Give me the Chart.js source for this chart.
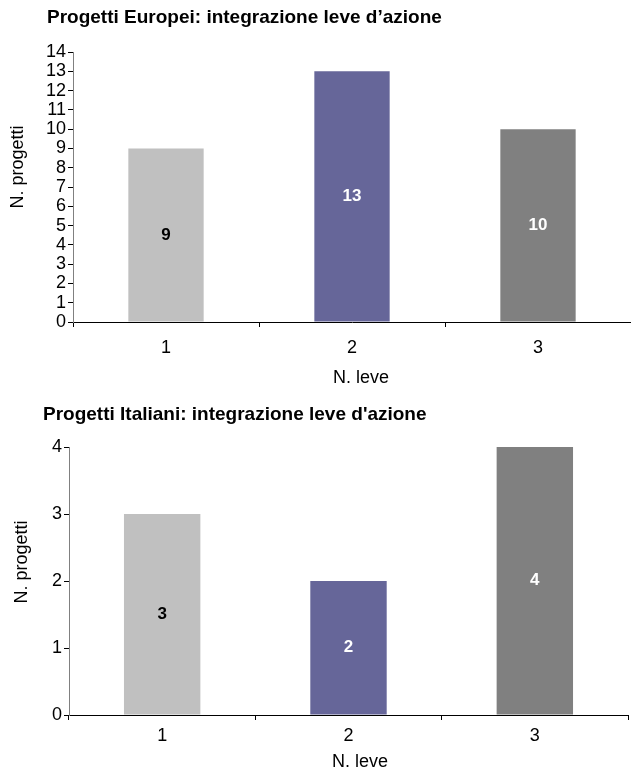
<!DOCTYPE html>
<html><head><meta charset="utf-8">
<script src="https://cdn.jsdelivr.net/npm/chart.js@4/dist/chart.umd.min.js"></script>
<style>
html,body{margin:0;padding:0;background:#fff;width:631px;height:769px;overflow:hidden;}
canvas{position:absolute;left:0;}
#c1{top:0;}
#c2{top:390px;}
</style></head><body>
<canvas id="c1" width="631" height="390"></canvas>
<canvas id="c2" width="631" height="379"></canvas>
<script>
// ---- data ----
const categories = ['1', '2', '3'];
const europeValues = [9, 13, 10];
const italyValues = [3, 2, 4];
const barColors = ['#c0c0c0', '#666699', '#808080'];
const labelColors = ['#000000', '#ffffff', '#ffffff'];
const europeTitle = 'Progetti Europei: integrazione leve d\u2019azione';
const italyTitle = "Progetti Italiani: integrazione leve d'azione";
const xAxisTitle = 'N. leve';
const yAxisTitle = 'N. progetti';
const europeAxis = { min: 0, max: 14, step: 1 };
const italyAxis = { min: 0, max: 4, step: 1 };

const FONT = '"Liberation Sans", Arial, Helvetica, sans-serif';

const textPlugin = {
  id: 'texts',
  afterDatasetsDraw(chart, args, o) {
    const ctx = chart.ctx, a = chart.chartArea;
    ctx.save();
    const meta = chart.getDatasetMeta(0);
    ctx.font = 'bold 17px ' + FONT;
    ctx.textAlign = 'center';
    ctx.textBaseline = 'middle';
    meta.data.forEach((bar, i) => {
      const v = chart.data.datasets[0].data[i];
      ctx.fillStyle = o.labelColors[i];
      ctx.fillText(String(v), bar.x, (bar.y + bar.base) / 2);
    });
    ctx.fillStyle = '#000';
    ctx.textAlign = 'left';
    ctx.font = 'bold 19px ' + FONT;
    ctx.fillText(o.title, o.titleX, o.titleY);
    ctx.textAlign = 'center';
    ctx.font = '18px ' + FONT;
    ctx.fillText(o.xTitle, o.xTitleX, o.xTitleY);
    ctx.translate(o.yTitleX, o.yTitleY);
    ctx.rotate(-Math.PI / 2);
    ctx.fillText(o.yTitle, 0, 0);
    ctx.restore();
  }
};

function makeChart(id, values, axis, lay, txt) {
  return new Chart(document.getElementById(id), {
    type: 'bar',
    data: {
      labels: categories,
      datasets: [{
        data: values,
        backgroundColor: barColors,
        borderWidth: 0,
        categoryPercentage: 1,
        barPercentage: lay.barPct
      }]
    },
    plugins: [textPlugin],
    options: {
      responsive: false,
      animation: false,
      layout: { padding: { top: lay.top, right: lay.right, bottom: 0, left: 0 } },
      plugins: {
        legend: { display: false },
        title: { display: false },
        tooltip: { enabled: false },
        texts: Object.assign({ labelColors: labelColors, xTitle: xAxisTitle, yTitle: yAxisTitle }, txt)
      },
      scales: {
        x: {
          offset: true,
          grid: { offset: true, drawOnChartArea: false, drawTicks: true, tickLength: 5, color: '#000' },
          border: { color: '#000', width: 1 },
          ticks: { color: '#000', font: { family: FONT, size: 18 }, padding: lay.xPad },
          afterFit(s) { s.height = lay.xHeight; }
        },
        y: {
          min: axis.min, max: axis.max,
          grid: { drawOnChartArea: false, drawTicks: true, tickLength: 5, color: '#000' },
          border: { color: '#808080', width: 1 },
          ticks: { stepSize: axis.step, autoSkip: false, color: '#000', font: { family: FONT, size: lay.yFont, lineHeight: 1 }, padding: 2 },
          afterFit(s) { s.width = lay.yWidth; }
        }
      }
    }
  });
}

makeChart('c1', europeValues, europeAxis,
  { top: 52, right: 0, xHeight: 68, yWidth: 73, barPct: 0.405, xPad: 10, yFont: 18 },
  { title: europeTitle, titleX: 47, titleY: 18, xTitleX: 361, xTitleY: 378, yTitleX: 18, yTitleY: 167 });

makeChart('c2', italyValues, italyAxis,
  { top: 57, right: 3, xHeight: 54, yWidth: 69, barPct: 0.41, xPad: 5, yFont: 18 },
  { title: italyTitle, titleX: 43, titleY: 25, xTitleX: 360, xTitleY: 372, yTitleX: 22, yTitleY: 172 });
</script>
</body></html>
